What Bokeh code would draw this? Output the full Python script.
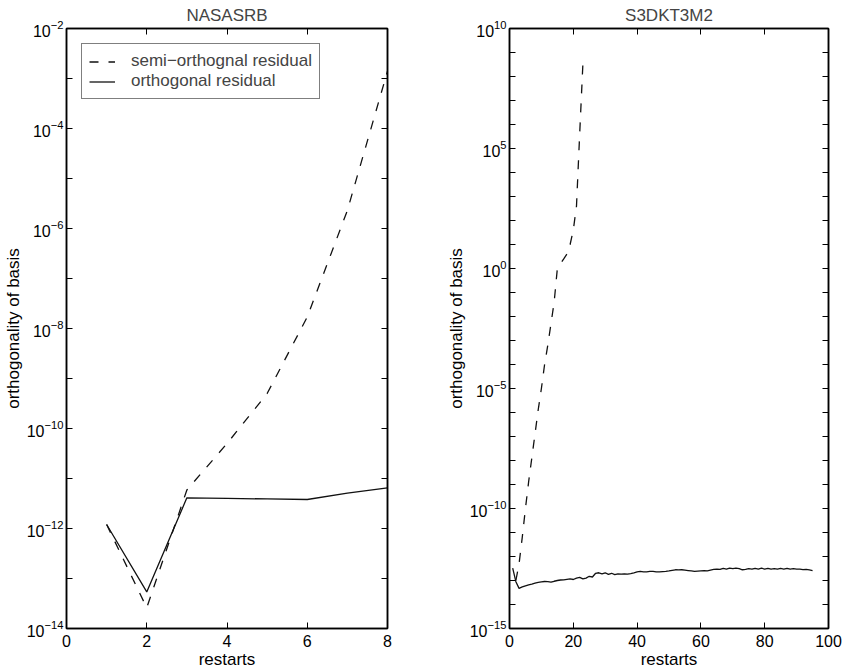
from bokeh.plotting import figure
from bokeh.models import (FixedTicker, LinearAxis, LogAxis, CustomJSTickFormatter,
                          Legend, LegendItem)
from bokeh.layouts import row
from bokeh.embed import file_html
from bokeh.resources import INLINE

FONT = "Liberation Sans"

# NASASRB panel
nas_restarts = [1, 2, 3, 4, 5, 6, 7, 8]
nas_semi = [1.2e-12, 2.6e-14, 5.9e-12, 5.0e-11, 5.0e-10, 1.7e-8, 2.3e-6, 1.4e-3]
nas_orth = [1.2e-12, 5.4e-14, 4.1e-12, 4.0e-12, 3.9e-12, 3.8e-12, 5.1e-12, 6.5e-12]

# S3DKT3M2 panel
s3_semi_restarts = list(range(2, 24))
s3_semi = [1.0e-13, 5.0e-13, 6.3e-12, 1.0e-10, 1.3e-9, 1.3e-8, 1.3e-7, 1.3e-6,
           1.0e-5, 1.0e-4, 6.3e-4, 5.0e-3, 4.0e-2, 1.0, 1.6, 2.5, 4.0, 10.0,
           40.0, 400.0, 4.0e5, 3.2e8]
s3_orth_restarts = list(range(1, 96))
s3_orth = [3.3e-13, 8.9e-14, 4.7e-14, 5.4e-14, 6.0e-14, 6.6e-14, 7.1e-14, 7.8e-14,
           8.3e-14, 8.7e-14, 9.1e-14, 8.9e-14, 8.5e-14, 9.3e-14, 1.0e-13, 1.05e-13,
           1.07e-13, 1.12e-13, 1.17e-13, 1.1e-13, 1.26e-13, 1.35e-13, 1.17e-13, 1.26e-13,
           1.5e-13, 1.4e-13, 2.0e-13, 2.1e-13, 1.9e-13, 2.1e-13, 1.8e-13, 2.0e-13,
           1.75e-13, 1.9e-13, 1.85e-13, 1.9e-13, 1.85e-13, 1.95e-13, 2.1e-13, 2.3e-13,
           2.4e-13, 2.3e-13, 2.3e-13, 2.4e-13, 2.4e-13, 2.3e-13, 2.3e-13, 2.35e-13,
           2.4e-13, 2.5e-13, 2.65e-13, 2.8e-13, 2.75e-13, 2.8e-13, 2.7e-13, 2.6e-13,
           2.5e-13, 2.4e-13, 2.45e-13, 2.5e-13, 2.55e-13, 2.5e-13, 2.7e-13, 2.9e-13,
           3.0e-13, 2.9e-13, 3.2e-13, 3.0e-13, 3.3e-13, 3.1e-13, 3.3e-13, 3.1e-13,
           2.8e-13, 2.9e-13, 3.1e-13, 2.95e-13, 3.2e-13, 3.0e-13, 3.25e-13, 3.0e-13,
           3.2e-13, 3.0e-13, 3.15e-13, 2.95e-13, 3.2e-13, 3.0e-13, 3.2e-13, 2.95e-13,
           3.1e-13, 2.95e-13, 3.0e-13, 2.85e-13, 2.9e-13, 2.75e-13, 2.6e-13]

nas_xticks = [0, 2, 4, 6, 8]
nas_yticks = [1e-14, 1e-12, 1e-10, 1e-8, 1e-6, 1e-4, 1e-2]
nas_yminor = [1e-13, 1e-11, 1e-9, 1e-7, 1e-5, 1e-3]
s3_xticks = [0, 20, 40, 60, 80, 100]
s3_yticks = [1e-15, 1e-10, 1e-5, 1e0, 1e5, 1e10]
s3_yminor = [10.0 ** k for k in range(-15, 11) if k % 5 != 0]

DASH = "9 10"


def style_axis(ax, labels=True):
    ax.axis_line_color = "black"
    ax.axis_line_width = 1.5
    ax.major_tick_in = 6
    ax.major_tick_out = 0
    ax.minor_tick_in = 6
    ax.minor_tick_out = 0
    ax.major_tick_line_color = "black"
    ax.minor_tick_line_color = "black"
    ax.major_label_text_font = FONT
    ax.major_label_text_font_size = "16px"
    ax.major_label_text_color = "black"
    ax.axis_label_text_font = FONT
    ax.axis_label_text_font_size = "17px"
    ax.axis_label_text_font_style = "normal"
    ax.axis_label_text_color = "black"
    if not labels:
        ax.formatter = CustomJSTickFormatter(code="return ''")
        ax.major_label_standoff = 0


def make_panel(title, xr, yr, xticks, yticks, yminor, width, bl, br):
    p = figure(width=width, height=671, x_range=xr, y_range=yr, y_axis_type="log",
               output_backend="svg", toolbar_location=None, tools="",
               min_border_left=bl, min_border_right=br, min_border_top=28,
               min_border_bottom=43)
    p.title.text = title
    p.title.text_font = FONT
    p.title.text_font_size = "17px"
    p.title.text_font_style = "normal"
    p.title.align = "center"
    p.title.standoff = 7
    p.grid.visible = False
    p.outline_line_color = "black"
    p.outline_line_width = 1.5
    p.background_fill_color = "white"
    p.border_fill_color = "white"

    p.xaxis.ticker = FixedTicker(ticks=xticks, minor_ticks=[])
    p.yaxis.ticker = FixedTicker(ticks=yticks, minor_ticks=yminor)
    p.xaxis.axis_label = "restarts"
    p.yaxis.axis_label = "orthogonality of basis"
    style_axis(p.xaxis[0])
    style_axis(p.yaxis[0])
    p.xaxis.major_label_standoff = 6
    p.xaxis.axis_label_standoff = 0
    p.yaxis.major_label_standoff = 3
    p.yaxis.axis_label_standoff = 1

    top = LinearAxis(ticker=FixedTicker(ticks=xticks, minor_ticks=[]))
    style_axis(top, labels=False)
    p.add_layout(top, "above")
    right = LogAxis(ticker=FixedTicker(ticks=yticks, minor_ticks=yminor))
    style_axis(right, labels=False)
    p.add_layout(right, "right")
    return p


p1 = make_panel("NASASRB", (0, 8), (1e-14, 1e-2), nas_xticks, nas_yticks, nas_yminor,
                443, 66, 56)
r_semi = p1.line(nas_restarts, nas_semi, line_color="#111111", line_width=1.3,
                 line_dash=DASH)
r_orth = p1.line(nas_restarts, nas_orth, line_color="#111111", line_width=1.3)
legend = Legend(items=[LegendItem(label="semi\u2212orthognal residual", renderers=[r_semi]),
                       LegendItem(label="orthogonal residual", renderers=[r_orth])],
                location="top_left")
legend.margin = 15
legend.padding = 7
legend.spacing = 0
legend.glyph_width = 26
legend.glyph_height = 17
legend.label_height = 17
legend.label_standoff = 16
legend.label_text_font = FONT
legend.label_text_font_size = "17px"
legend.border_line_color = "black"
legend.border_line_width = 1.2
legend.background_fill_alpha = 1
p1.add_layout(legend)

p2 = make_panel("S3DKT3M2", (0, 100), (1e-15, 1e10), s3_xticks, s3_yticks, s3_yminor,
                400, 64, 15)
p2.line(s3_semi_restarts, s3_semi, line_color="#111111", line_width=1.3, line_dash=DASH)
p2.line(s3_orth_restarts, s3_orth, line_color="#111111", line_width=1.3)

layout = row(p1, p2)
open("out.html", "w").write(file_html(layout, INLINE))
